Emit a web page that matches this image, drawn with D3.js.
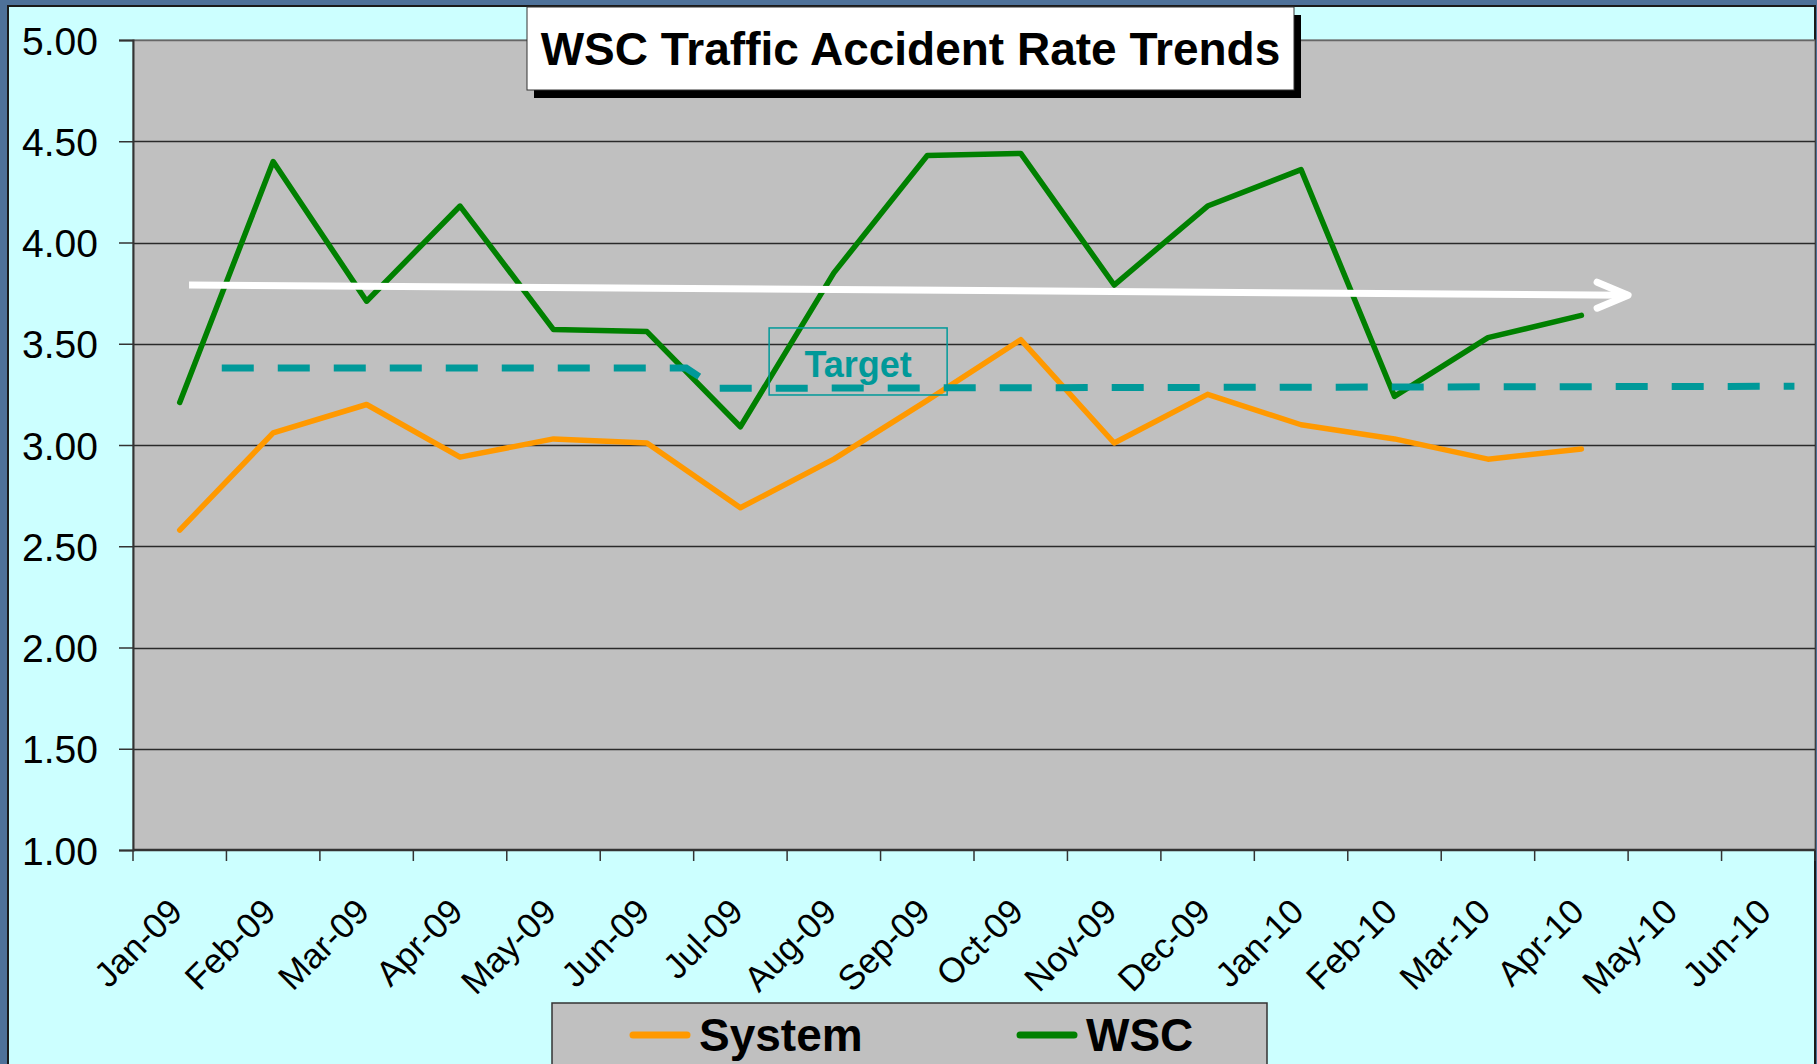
<!DOCTYPE html>
<html>
<head>
<meta charset="utf-8">
<script src="https://cdn.jsdelivr.net/npm/d3@7"></script>
<style>
  html, body { margin: 0; padding: 0; overflow: hidden; background: #4e7199; }
  svg { display: block; font-family: "Liberation Sans", Arial, sans-serif; }
</style>
</head>
<body>
<svg id="chart"></svg>
<script>
// ---- data ----
const months = ['Jan-09', 'Feb-09', 'Mar-09', 'Apr-09', 'May-09', 'Jun-09', 'Jul-09', 'Aug-09', 'Sep-09',
                'Oct-09', 'Nov-09', 'Dec-09', 'Jan-10', 'Feb-10', 'Mar-10', 'Apr-10', 'May-10', 'Jun-10'];
const systemRates = [2.58, 3.06, 3.20, 2.94, 3.03, 3.01, 2.69, 2.93, 3.22, 3.52, 3.01, 3.25, 3.10, 3.03, 2.93, 2.98];
const wscRates = [3.21, 4.40, 3.71, 4.18, 3.57, 3.56, 3.09, 3.85, 4.43, 4.44, 3.79, 4.18, 4.36, 3.24, 3.53, 3.64];
const yTicks = [1.0, 1.5, 2.0, 2.5, 3.0, 3.5, 4.0, 4.5, 5.0];
// target line (drawn shape), position in months from start of Jan-09
const targetAt = [0.95, 5.92, 6.25, 17.78];
const targetRates = [3.38, 3.38, 3.28, 3.29];
// trend arrow
const trendAt = [0.6, 16.0];
const trendRates = [3.79, 3.74];

const width = 1817, height = 1064;
const plot = { left: 133, top: 40, right: 1815, bottom: 850 };

const svg = d3.select('#chart')
    .attr('width', width)
    .attr('height', height);

// cyan panel
svg.append('rect')
    .attr('x', 8).attr('y', 6)
    .attr('width', 1807).attr('height', 1080)
    .attr('fill', '#ccffff')
    .attr('stroke', '#1a1a1a')
    .attr('stroke-width', 2);

// scales
const x = d3.scaleBand()
    .domain(months)
    .range([plot.left, plot.right])
    .paddingInner(0)
    .paddingOuter(0);

const xPos = d3.scaleLinear()
    .domain([0, months.length])
    .range([plot.left, plot.right]);

const y = d3.scaleLinear()
    .domain([1, 5])
    .range([plot.bottom, plot.top]);

// plot area
svg.append('rect')
    .attr('x', plot.left).attr('y', plot.top)
    .attr('width', plot.right - plot.left)
    .attr('height', plot.bottom - plot.top)
    .attr('fill', '#c0c0c0')
    .attr('stroke', '#666')
    .attr('stroke-width', 1);

// gridlines
svg.append('g')
    .selectAll('line')
    .data(yTicks.slice(1))
    .join('line')
    .attr('x1', plot.left).attr('x2', plot.right)
    .attr('y1', d => Math.round(y(d)) + 0.5)
    .attr('y2', d => Math.round(y(d)) + 0.5)
    .attr('stroke', d => d === 5 ? '#666' : '#2a2a2a')
    .attr('stroke-width', 1.3);

// y axis
const yAxis = svg.append('g')
    .attr('transform', `translate(${plot.left},0)`)
    .call(d3.axisLeft(y).tickValues(yTicks).tickFormat(d3.format('.2f')).tickSize(14).tickPadding(21));
yAxis.select('.domain').attr('stroke', '#333').attr('stroke-width', 2);
yAxis.selectAll('.tick line').attr('stroke', '#333').attr('stroke-width', 1.5);
yAxis.selectAll('text')
    .attr('font-family', '"Liberation Sans", Arial, sans-serif')
    .attr('font-size', 39)
    .attr('fill', '#000')
    .attr('dy', '0.36em');

// x axis: ticks on category boundaries
const xg = svg.append('g');
xg.append('line')
    .attr('x1', plot.left).attr('x2', plot.right)
    .attr('y1', plot.bottom).attr('y2', plot.bottom)
    .attr('stroke', '#333').attr('stroke-width', 2.5);
xg.selectAll('line.tick')
    .data(d3.range(months.length + 1))
    .join('line')
    .attr('class', 'tick')
    .attr('x1', d => xPos(d)).attr('x2', d => xPos(d))
    .attr('y1', plot.bottom).attr('y2', plot.bottom + 11)
    .attr('stroke', '#333').attr('stroke-width', 1.5);
xg.selectAll('text')
    .data(months)
    .join('text')
    .attr('transform', d => `translate(${x(d) + x.bandwidth() / 2 - 4},${plot.bottom + 55}) rotate(-45)`)
    .attr('text-anchor', 'end')
    .attr('dy', '0.35em')
    .attr('font-size', 35)
    .attr('fill', '#000')
    .text(d => d);

// series lines
const line = d3.line()
    .x((d, i) => x(months[i]) + x.bandwidth() / 2)
    .y(d => y(d));

const series = [
    { name: 'System', values: systemRates, color: '#ff9900' },
    { name: 'WSC', values: wscRates, color: '#008000' }
];

svg.append('g')
    .selectAll('path')
    .data(series)
    .join('path')
    .attr('d', d => line(d.values))
    .attr('fill', 'none')
    .attr('stroke', d => d.color)
    .attr('stroke-width', 5.5)
    .attr('stroke-linejoin', 'round')
    .attr('stroke-linecap', 'round');

// target dashed line
const targetLine = d3.line()
    .x(d => xPos(d[0]))
    .y(d => y(d[1]));

svg.append('path')
    .attr('d', targetLine(d3.zip(targetAt, targetRates)))
    .attr('fill', 'none')
    .attr('stroke', '#009999')
    .attr('stroke-width', 7)
    .attr('stroke-dasharray', '32 24');

// target label
const tgCx = xPos(7.76);
const tgTop = y(3.578), tgBot = y(3.247);
svg.append('rect')
    .attr('x', tgCx - 89).attr('y', tgTop)
    .attr('width', 178).attr('height', tgBot - tgTop)
    .attr('fill', 'none')
    .attr('stroke', '#009999')
    .attr('stroke-width', 1.5);
svg.append('text')
    .attr('x', tgCx).attr('y', tgTop + 49)
    .attr('text-anchor', 'middle')
    .attr('font-size', 36)
    .attr('font-weight', 'bold')
    .attr('fill', '#009999')
    .text('Target');

// trend arrow
const tipX = xPos(trendAt[1]), tipY = y(trendRates[1]);
const arrow = svg.append('g')
    .attr('fill', 'none')
    .attr('stroke', '#fff')
    .attr('stroke-width', 7)
    .attr('stroke-linecap', 'round')
    .attr('stroke-linejoin', 'round');
arrow.append('path')
    .attr('d', targetLine(d3.zip(trendAt, trendRates)))
    .attr('stroke-linecap', 'butt');
arrow.append('path')
    .attr('d', `M${tipX - 31},${tipY - 13} L${tipX},${tipY} L${tipX - 31},${tipY + 13}`);

// title box with shadow
const title = { x: 527, y: 7, w: 767, h: 83 };
svg.append('rect')
    .attr('x', title.x + 7).attr('y', title.y + 8)
    .attr('width', title.w).attr('height', title.h)
    .attr('fill', '#000');
svg.append('rect')
    .attr('x', title.x).attr('y', title.y)
    .attr('width', title.w).attr('height', title.h)
    .attr('fill', '#fff')
    .attr('stroke', '#333')
    .attr('stroke-width', 1);
svg.append('text')
    .attr('x', title.x + title.w / 2).attr('y', 65)
    .attr('text-anchor', 'middle')
    .attr('font-size', 46)
    .attr('font-weight', 'bold')
    .attr('fill', '#000')
    .text('WSC Traffic Accident Rate Trends');

// legend
const legend = svg.append('g');
legend.append('rect')
    .attr('x', 552).attr('y', 1003)
    .attr('width', 715).attr('height', 90)
    .attr('fill', '#c0c0c0')
    .attr('stroke', '#333')
    .attr('stroke-width', 1.5);
const legendX = [633, 1020];
const items = legend.selectAll('g.item')
    .data(series)
    .join('g')
    .attr('class', 'item')
    .attr('transform', (d, i) => `translate(${legendX[i]},0)`);
items.append('line')
    .attr('x1', 0).attr('x2', 54)
    .attr('y1', 1035).attr('y2', 1035)
    .attr('stroke', d => d.color)
    .attr('stroke-width', 7)
    .attr('stroke-linecap', 'round');
items.append('text')
    .attr('x', 66).attr('y', 1051)
    .attr('font-size', 46)
    .attr('font-weight', 'bold')
    .attr('fill', '#000')
    .text(d => d.name);
</script>
</body>
</html>
